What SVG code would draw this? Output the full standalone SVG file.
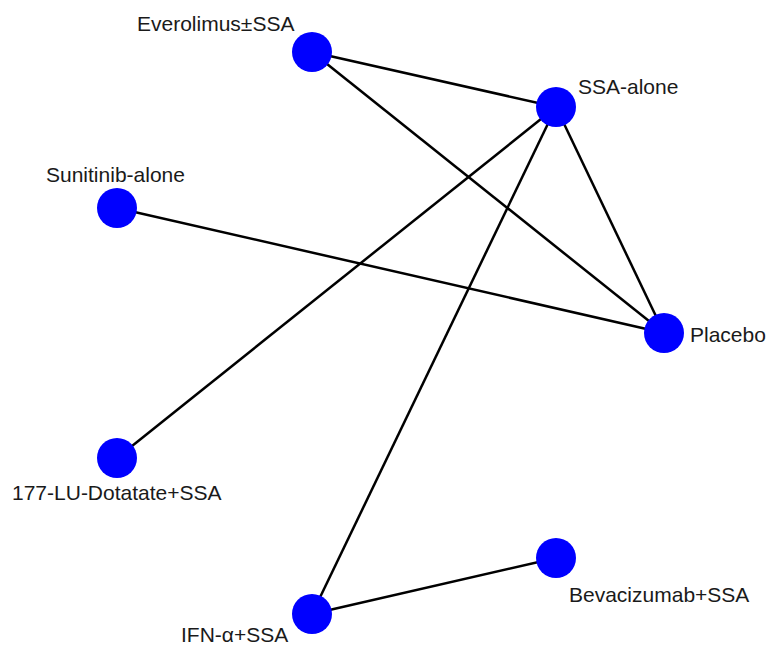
<svg xmlns="http://www.w3.org/2000/svg" width="769" height="648" viewBox="0 0 769 648">
<style>
.e{stroke:#000;stroke-width:2.5;fill:none}
.n{fill:#0000ff}
.t{font-family:"Liberation Sans",Arial,sans-serif;font-size:21px;fill:#1a1a1a}
</style>
<rect width="769" height="648" fill="#fff"/>
<g id="edges">
<line class="e" x1="312" y1="52" x2="556" y2="107"/>
<line class="e" x1="312" y1="52" x2="664" y2="333"/>
<line class="e" x1="556" y1="107" x2="664" y2="333"/>
<line class="e" x1="556" y1="107" x2="117" y2="458"/>
<line class="e" x1="556" y1="107" x2="312" y2="614"/>
<line class="e" x1="117" y1="208" x2="664" y2="333"/>
<line class="e" x1="312" y1="614" x2="556" y2="558"/>
</g>
<g id="everolimus"><circle class="n" cx="312" cy="52" r="20"/><text class="t" x="137" y="31">Everolimus±SSA</text></g>
<g id="ssa-alone"><circle class="n" cx="556" cy="107" r="20"/><text class="t" x="578" y="94">SSA-alone</text></g>
<g id="sunitinib"><circle class="n" cx="117" cy="208" r="20"/><text class="t" x="46" y="182">Sunitinib-alone</text></g>
<g id="placebo"><circle class="n" cx="664" cy="333" r="20"/><text class="t" x="690" y="342">Placebo</text></g>
<g id="lu177"><circle class="n" cx="117" cy="458" r="20"/><text class="t" x="12" y="500">177-LU-Dotatate+SSA</text></g>
<g id="ifn"><circle class="n" cx="312" cy="614" r="20"/><text class="t" x="181" y="642">IFN-α+SSA</text></g>
<g id="bevacizumab"><circle class="n" cx="556" cy="558" r="20"/><text class="t" x="569" y="602">Bevacizumab+SSA</text></g>
</svg>
